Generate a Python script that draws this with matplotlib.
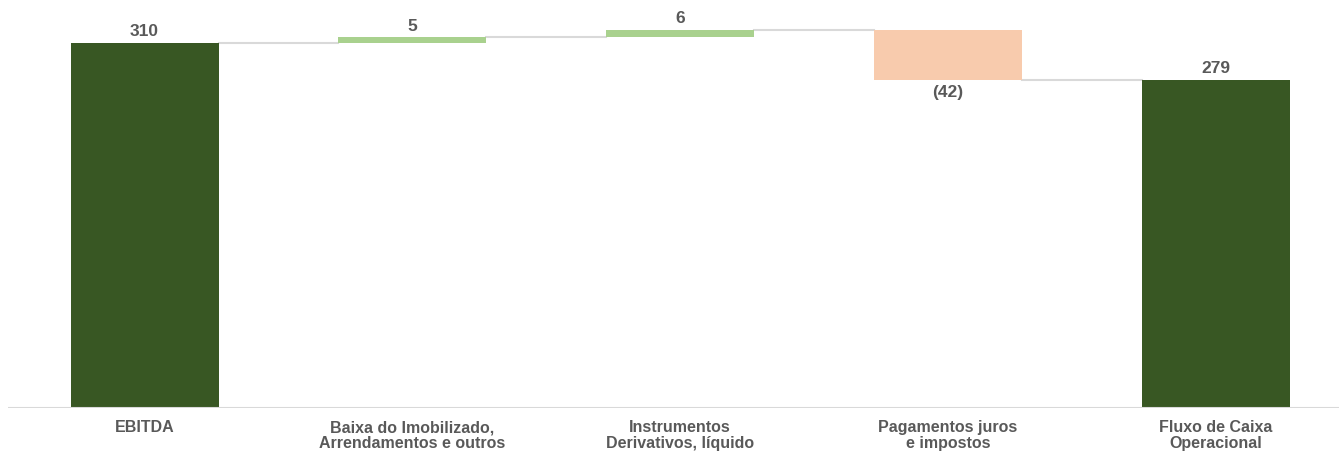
import matplotlib
matplotlib.use("Agg")
import matplotlib.pyplot as plt

plt.rcParams['font.family'] = ['Liberation Sans Narrow', 'Liberation Sans', 'DejaVu Sans']

categories = ["EBITDA", "Baixa do Imobilizado,\nArrendamentos e outros",
              "Instrumentos\nDerivativos, líquido", "Pagamentos juros\ne impostos",
              "Fluxo de Caixa\nOperacional"]
values = [310, 5, 6, -42, 279]
is_total = [True, False, False, False, True]
labels = ["310", "5", "6", "(42)", "279"]

dark_green = "#385723"
light_green = "#A9D18E"
peach = "#F8CBAD"
txt_color = "#595959"

fig = plt.figure(figsize=(13.39, 4.52), dpi=100)
ax = fig.add_axes([0.006, 0.095, 0.994, 0.905])

width = 0.553
running = 0
tops = []
for i, (v, tot) in enumerate(zip(values, is_total)):
    if tot:
        bottom, height, col = 0, v, dark_green
        running = v
    else:
        if v >= 0:
            bottom, height, col = running, v, light_green
        else:
            bottom, height, col = running + v, -v, peach
        running += v
    ax.bar(i, height, bottom=bottom, width=width, color=col, edgecolor="none", zorder=2)
    tops.append(running)
    if v >= 0:
        ax.text(i, bottom + height + 4, labels[i], ha="center", va="bottom",
                fontsize=12.5, fontweight="bold", color=txt_color)
    else:
        ax.text(i, bottom - 4, labels[i], ha="center", va="top",
                fontsize=12.5, fontweight="bold", color=txt_color)

# connector lines
for i in range(len(values) - 1):
    ax.plot([i + width / 2, i + 1 - width / 2], [tops[i], tops[i]],
            color="#d9d9d9", lw=1.5, zorder=1)

ax.set_xlim(-0.51, 4.461)
ax.set_ylim(0, 347.5)
ax.axhline(0, color="#d9d9d9", lw=1.5, zorder=3)
for s in ax.spines.values():
    s.set_visible(False)
ax.set_yticks([])
ax.set_xticks(range(len(categories)))
ax.set_xticklabels(categories, fontsize=11.5, fontweight="bold", color=txt_color,
                   linespacing=1.1)
ax.tick_params(axis="x", length=0, pad=8)

fig.savefig("out.png", dpi=100)
